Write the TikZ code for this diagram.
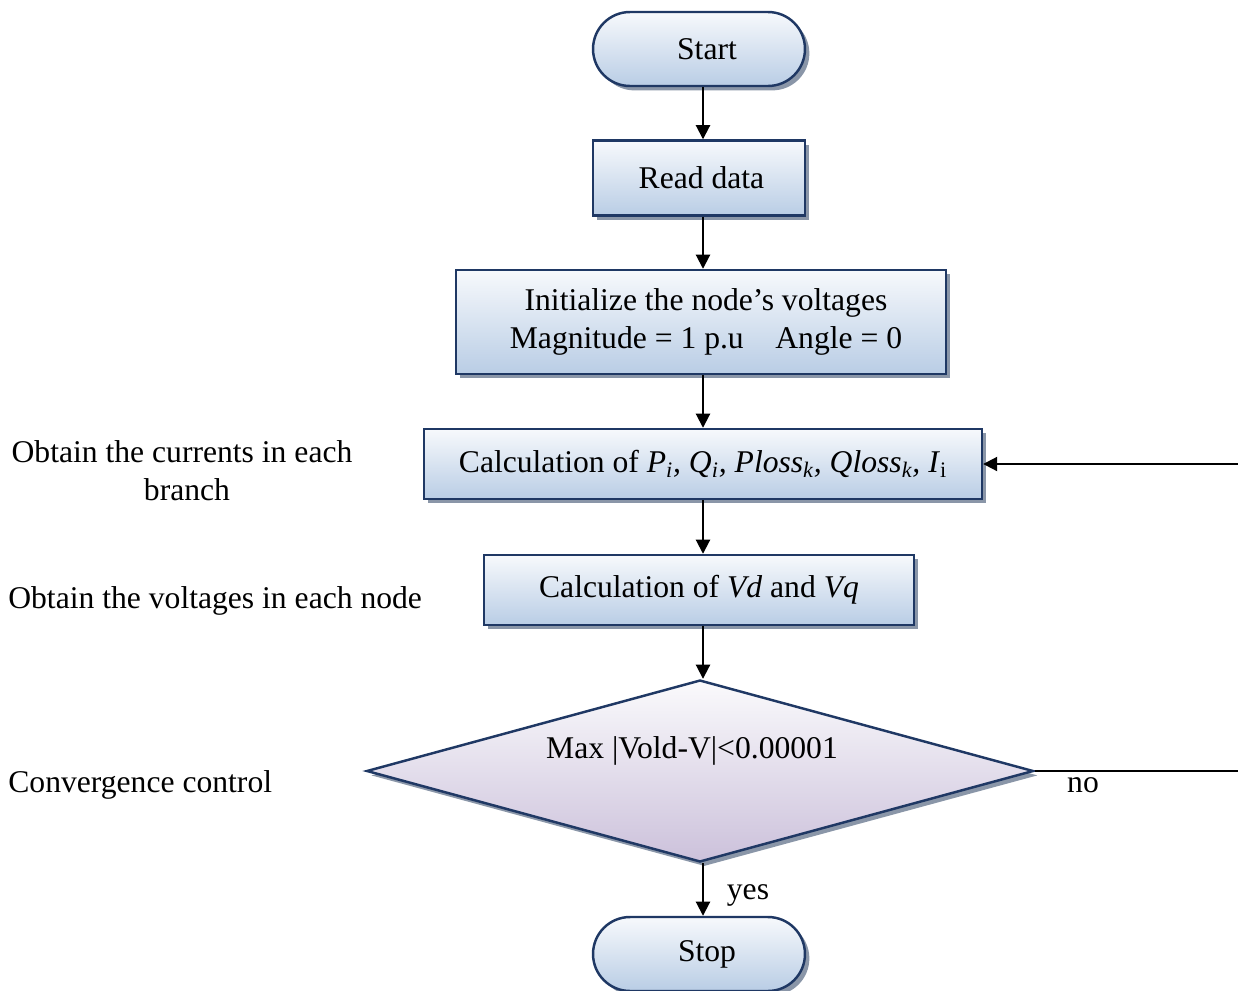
\documentclass[tikz,border=0pt]{standalone}
\usepackage{fontspec}
\setmainfont{Liberation Serif}
\usetikzlibrary{shapes.geometric,shapes.misc,shadows,arrows.meta}
\definecolor{navy}{HTML}{1F3864}
\definecolor{boxtop}{HTML}{F7F9FC}
\definecolor{boxbot}{HTML}{B9CDE5}
\definecolor{diatop}{HTML}{FAFAFC}
\definecolor{diabot}{HTML}{CCC1DB}
\definecolor{shadowc}{HTML}{8A96A8}
\begin{document}
\begin{tikzpicture}[x=0.02cm,y=-0.02cm,
  every node/.style={font=\fontsize{18}{21.5}\selectfont},
  shad/.style={drop shadow={shadow xshift=2.5pt,shadow yshift=-2.5pt,fill=shadowc,opacity=1}},
  boxstyle/.style={draw=navy,line width=1.4pt,top color=boxtop,bottom color=boxbot,shad,align=center,inner sep=0pt},
  term/.style={boxstyle,rounded rectangle,minimum width=4.24cm,minimum height=1.48cm},
  proc/.style={boxstyle,rectangle},
  dec/.style={diamond,draw=navy,line width=1.4pt,top color=diatop,bottom color=diabot,shad,inner sep=0pt,minimum width=13.34cm,minimum height=3.64cm},
  arr/.style={line width=1.1pt,-{Triangle[length=8pt,width=8pt]}},
  lbl/.style={align=center,inner sep=0pt}
]
\useasboundingbox (0,0) rectangle (1238,991);
\node[term] (start) at (699,49) {\hspace*{0.32cm}Start};
\node[proc,minimum width=4.24cm,minimum height=1.5cm] (read) at (699,178) {\hspace*{0.1cm}Read data};
\node[proc,minimum width=9.8cm,minimum height=2.08cm] (init) at (701,322) {\hspace*{0.2cm}Initialize the node’s voltages\\\hspace*{0.2cm}Magnitude = 1 p.u\hspace{0.75em} Angle = 0};
\node[proc,minimum width=11.16cm,minimum height=1.4cm] (calc) at (703,464) {Calculation of \textit{P\textsubscript{i}, Q\textsubscript{i}, Ploss\textsubscript{k}, Qloss\textsubscript{k}, I}\textsubscript{i}};
\node[proc,minimum width=8.6cm,minimum height=1.4cm] (vd) at (699,590) {Calculation of \textit{Vd} and \textit{Vq}};
\node[dec] (dia) at (700,771) {};
\node[lbl] (diatext) at (692,751) {Max |Vold-V|<0.00001};
\node[term] (stop) at (699,954) {\hspace*{0.32cm}Stop};

\draw[arr] (start.south -| 703,0) -- (read.north -| 703,0);
\draw[arr] (read.south -| 703,0) -- (init.north -| 703,0);
\draw[arr] (init.south -| 703,0) -- (calc.north -| 703,0);
\draw[arr] (calc.south -| 703,0) -- (vd.north -| 703,0);
\draw[arr] (vd.south -| 703,0) -- (dia.north -| 703,0);
\draw[arr] (dia.south -| 703,0) -- (stop.north -| 703,0);
\coordinate (loopR) at (1240,771);
\draw[arr] (dia.east) -- (loopR) |- (calc.east);

\node[lbl] (yes) at (748,895) {yes};
\node[lbl] (no) at (1083,785) {no};
\node[lbl] (l1) at (182,471) {Obtain the currents in each\\\hspace*{0.2cm}branch};
\node[lbl,anchor=west] (l2) at (8,601) {Obtain the voltages in each node};
\node[lbl,anchor=west] (l3) at (8,785) {Convergence control};
\end{tikzpicture}
\end{document}
